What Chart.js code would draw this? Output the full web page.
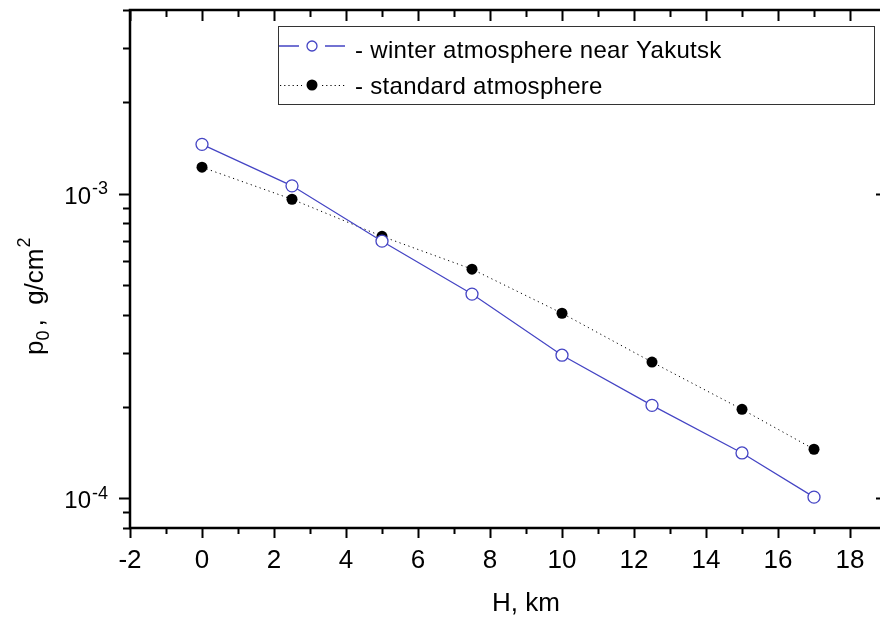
<!DOCTYPE html>
<html>
<head>
<meta charset="utf-8">
<script src="https://cdn.jsdelivr.net/npm/chart.js@4.4.1/dist/chart.umd.min.js"></script>
<style>
  html, body { margin: 0; padding: 0; background: #fff; overflow: hidden; }
  #wrap { position: relative; width: 900px; height: 619px; }
</style>
</head>
<body>
<div id="wrap"><canvas id="chart"></canvas></div>
<script>
// ── Data ────────────────────────────────────────────────────
const heights       = [0, 2.5, 5, 7.5, 10, 12.5, 15, 17];
const winterYakutsk = [1.45e-3, 1.06e-3, 6.98e-4, 4.68e-4, 2.95e-4, 2.02e-4, 1.41e-4, 1.01e-4];
const standardAtm   = [1.22e-3, 9.58e-4, 7.24e-4, 5.65e-4, 4.05e-4, 2.80e-4, 1.96e-4, 1.45e-4];

const xTickLabels = [-2, 0, 2, 4, 6, 8, 10, 12, 14, 16, 18];
const yDecades    = [1e-4, 1e-3];
const legendNames = ['- winter atmosphere near Yakutsk', '- standard atmosphere'];

const BLUE = '#4444c4';
const FONT = '"Liberation Sans", Arial, sans-serif';

function points(ys) {
    return heights.map((h, i) => ({ x: h, y: ys[i] }));
}

// ── Axes frame, ticks, labels, legend ───────────────────────
const frame = {
    id: 'frame',
    afterDraw(chart) {
        const { ctx, chartArea: a, scales } = chart;
        const sx = scales.x, sy = scales.y;
        ctx.save();
        ctx.strokeStyle = '#000';
        ctx.fillStyle = '#000';

        // box
        ctx.lineWidth = 2.5;
        ctx.beginPath();
        ctx.moveTo(a.left, a.top); ctx.lineTo(a.left, a.bottom);
        ctx.lineTo(a.right, a.bottom); ctx.lineTo(a.right, a.top);
        ctx.closePath();
        ctx.stroke();

        // x ticks: bottom outward, top inward
        ctx.lineWidth = 2;
        for (let v = sx.min; v <= sx.max; v++) {
            const px = Math.round(sx.getPixelForValue(v)) + 0.5;
            const len = v % 2 === 0 ? 10 : 6;
            ctx.beginPath();
            ctx.moveTo(px, a.bottom); ctx.lineTo(px, a.bottom + len);
            ctx.moveTo(px, a.top); ctx.lineTo(px, a.top + len + 1);
            ctx.stroke();
        }

        // y ticks (log): left outward, right inward
        [1e-5, 1e-4, 1e-3, 1e-2].forEach(d => {
            for (let m = 1; m <= 9; m++) {
                const val = m * d;
                if (val < sy.min || val > sy.max) continue;
                const py = Math.round(sy.getPixelForValue(val)) + 0.5;
                const len = m === 1 ? 11 : 7;
                ctx.beginPath();
                ctx.moveTo(a.left - len, py); ctx.lineTo(a.left, py);
                ctx.moveTo(a.right - (m === 1 ? 10 : 4), py); ctx.lineTo(a.right, py);
                ctx.stroke();
            }
        });

        // x tick labels
        ctx.font = '26px ' + FONT;
        ctx.textAlign = 'center';
        ctx.textBaseline = 'alphabetic';
        xTickLabels.forEach(v => {
            ctx.fillText(String(v), sx.getPixelForValue(v), 568);
        });

        // y tick labels 10^n
        yDecades.forEach(v => {
            const py = sy.getPixelForValue(v);
            const exp = String(Math.round(Math.log10(v)));
            ctx.font = '18px ' + FONT;
            ctx.textAlign = 'left';
            ctx.fillText(exp, 92, py + 0.5);
            ctx.font = '24px ' + FONT;
            ctx.textAlign = 'right';
            ctx.fillText('10', 91, py + 10);
        });

        // axis titles
        ctx.font = '26px ' + FONT;
        ctx.textAlign = 'center';
        ctx.fillText('H, km', 526, 611);

        ctx.save();
        ctx.translate(43, 355);
        ctx.rotate(-Math.PI / 2);
        ctx.textAlign = 'left';
        let cx = 0;
        ctx.font = '26px ' + FONT;
        ctx.fillText('p', cx, 0); cx += ctx.measureText('p').width;
        ctx.font = '18px ' + FONT;
        ctx.fillText('0', cx, 6); cx += ctx.measureText('0').width + 4;
        ctx.font = '26px ' + FONT;
        ctx.fillText(',  g/cm', cx, 0); cx += ctx.measureText(',  g/cm').width + 1;
        ctx.font = '18px ' + FONT;
        ctx.fillText('2', cx, -13);
        ctx.restore();

        // legend box
        ctx.lineWidth = 1;
        ctx.strokeStyle = '#333';
        ctx.strokeRect(278.5, 26.5, 596, 78);

        // row 1 : open blue circle with solid line
        ctx.strokeStyle = BLUE;
        ctx.lineWidth = 1.3;
        ctx.beginPath();
        ctx.moveTo(279, 46); ctx.lineTo(299, 46);
        ctx.moveTo(325, 46); ctx.lineTo(345, 46);
        ctx.stroke();
        ctx.beginPath();
        ctx.arc(312, 46, 5, 0, Math.PI * 2);
        ctx.fillStyle = '#fff'; ctx.fill();
        ctx.stroke();

        // row 2 : filled black circle with dotted line
        ctx.strokeStyle = '#000';
        ctx.lineWidth = 1;
        ctx.setLineDash([1.2, 3]);
        ctx.beginPath();
        ctx.moveTo(280, 85.5); ctx.lineTo(302, 85.5);
        ctx.moveTo(322, 85.5); ctx.lineTo(346, 85.5);
        ctx.stroke();
        ctx.setLineDash([]);
        ctx.beginPath();
        ctx.arc(312, 85, 5.5, 0, Math.PI * 2);
        ctx.fillStyle = '#000'; ctx.fill();

        ctx.font = '24px ' + FONT;
        ctx.letterSpacing = '0.3px';
        ctx.textAlign = 'left';
        ctx.fillText(legendNames[0], 355, 58);
        ctx.fillText(legendNames[1], 355, 94);
        ctx.letterSpacing = '0px';

        ctx.restore();
    }
};

new Chart(document.getElementById('chart'), {
    type: 'scatter',
    data: {
        datasets: [
            {
                label: legendNames[0],
                data: points(winterYakutsk),
                showLine: true,
                borderColor: BLUE,
                borderWidth: 1.2,
                pointRadius: 6,
                pointBorderWidth: 1.3,
                pointBackgroundColor: '#fff',
                pointBorderColor: BLUE,
            },
            {
                label: legendNames[1],
                data: points(standardAtm),
                showLine: true,
                borderColor: '#000',
                borderWidth: 1,
                borderDash: [1.2, 3.5],
                pointRadius: 5.5,
                pointBorderWidth: 0,
                pointBackgroundColor: '#000',
                pointBorderColor: '#000',
            },
        ],
    },
    options: {
        responsive: true,
        maintainAspectRatio: false,
        animation: false,
        devicePixelRatio: 1,
        layout: { padding: { left: 130, top: 10, right: 14, bottom: 91 } },
        plugins: {
            legend:  { display: false },
            tooltip: { enabled: false },
        },
        scales: {
            x: { type: 'linear', min: -2, max: 19, display: false },
            y: { type: 'logarithmic', min: 8e-5, max: 4e-3, display: false },
        },
    },
    plugins: [frame],
});
</script>
</body>
</html>
